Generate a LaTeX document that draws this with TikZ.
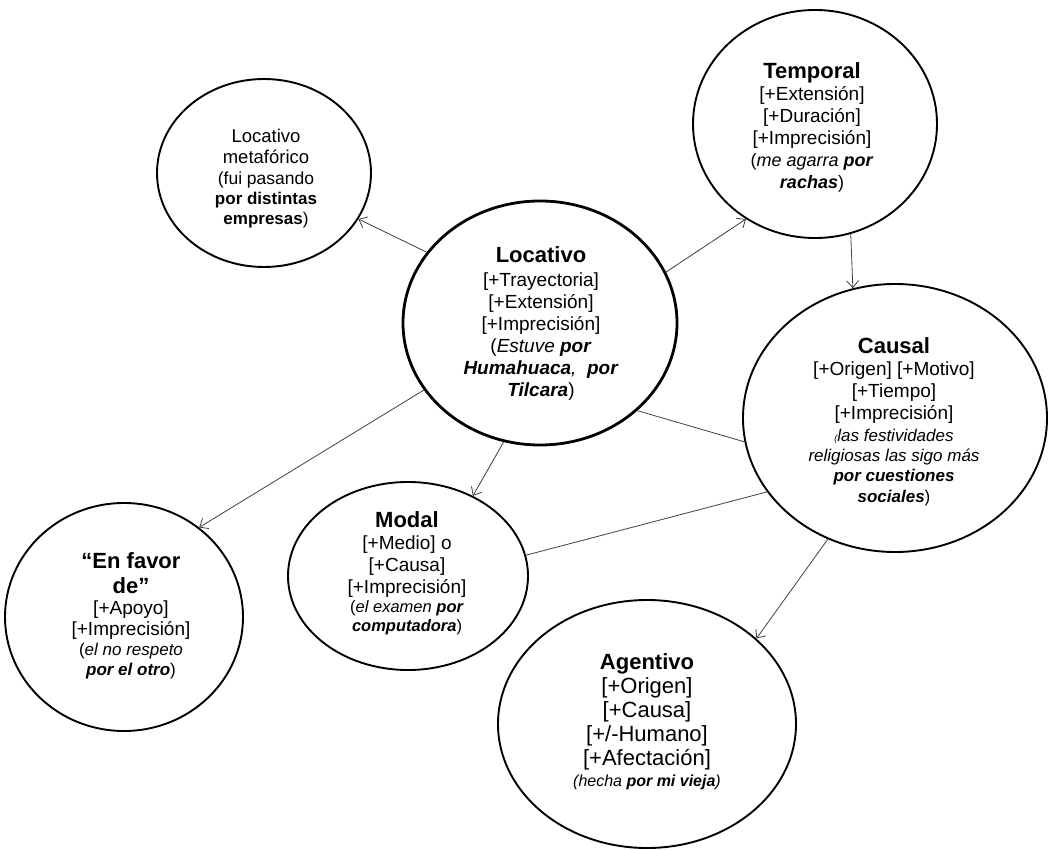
\documentclass[tikz,border=0pt]{standalone}
\usepackage{fontspec}
\setmainfont{Liberation Sans}
\usetikzlibrary{shapes.geometric,arrows.meta}
\newcommand\setfs[2]{\fontsize{#1}{#2}\selectfont}
\tikzset{
  bub/.style={draw=black, line width=1.9pt, ellipse, inner sep=0pt},
  lbl/.style={align=center, inner sep=0pt, text=black},
  con/.style={draw=black!75, line width=0.8pt},
  arr/.style={con, -{Straight Barb[length=7pt,width=12pt]}},
}
\begin{document}
\begin{tikzpicture}[x=1pt,y=-1pt]
\useasboundingbox (0,0) rectangle (1049,850);
% bubbles
\node[bub, minimum width=214pt, minimum height=188pt] (met) at (264,173) {};
\node[bub, minimum width=244pt, minimum height=228pt] (temp) at (815,124) {};
\node[bub, line width=2.8pt, minimum width=274pt, minimum height=244pt] (loc) at (540,323) {};
\node[bub, minimum width=304pt, minimum height=268pt] (cau) at (895,418) {};
\node[bub, minimum width=240pt, minimum height=188pt] (mod) at (408,576) {};
\node[bub, minimum width=238pt, minimum height=228pt] (fav) at (124,617) {};
\node[bub, minimum width=298pt, minimum height=248pt] (age) at (647,724) {};
% texts
\node[lbl, font=\setfs{18.5}{21}] (met-t) at (266,179)
  {Locativo\\ metafórico\\ {\setfs{17.5}{21}(fui pasando}\\[-1pt]
   {\setfs{17}{21}\bfseries por distintas}\\[-1pt]
   {\setfs{17}{21}\textbf{empresas})}};
\node[lbl, font=\setfs{19}{22}] (temp-t) at (812,127)
  {{\setfs{22}{22}\bfseries Temporal}\\ {[}+Extensión]\\ {[}+Duración]\\ {[}+Imprecisión]\\
   {\setfs{18}{22}(\textit{me agarra} \textbf{\textit{por}}}\\
   {\setfs{18}{22}\textbf{\textit{rachas}})}};
\node[lbl, font=\setfs{19}{22}] (loc-t) at (541,323)
  {{\setfs{22}{22}\bfseries Locativo}\\[2pt] {[}+Trayectoria]\\ {[}+Extensión]\\ {[}+Imprecisión]\\
   (\textit{Estuve} \textbf{\textit{por}}\\
   \textbf{\textit{Humahuaca}}\textit{,}~~\textbf{\textit{por}}\\
   \textbf{\textit{Tilcara}})};
\node[lbl, font=\setfs{19}{22}] (cau-t) at (894,422)
  {{\setfs{22}{22}\bfseries Causal}\\ {[}+Origen] [+Motivo]\\ {[}+Tiempo]\\ {[}+Imprecisión]\\
   {\setfs{17}{20}\itshape{\setfs{9}{9}(}las festividades}\\[-2pt]
   {\setfs{17}{20}\itshape religiosas las sigo más}\\[-2pt]
   {\setfs{17}{20}\bfseries\itshape por cuestiones}\\[-1pt]
   {\setfs{17}{20}\textbf{\textit{sociales}})}};
\node[lbl, font=\setfs{19}{22}] (mod-t) at (407,573)
  {{\setfs{22}{22}\bfseries Modal}\\ {[}+Medio] o\\ {[}+Causa]\\ {[}+Imprecisión]\\[-3pt]
   {\setfs{16.5}{18}(\textit{el examen} \textbf{\textit{por}}}\\[-3pt]
   {\setfs{16.5}{18}\textbf{\textit{computadora}})}};
\node[lbl, font=\setfs{19}{21}] (fav-t) at (131,616)
  {{\setfs{22}{22}\bfseries “En favor}\\[4pt] {\setfs{22}{22}\bfseries de”}\\ {[}+Apoyo]\\ {[}+Imprecisión]\\[-1pt]
   {\setfs{17}{20}(\textit{el no respeto}}\\[-1pt]
   {\setfs{17}{20}\textbf{\textit{por el otro}})}};
\node[lbl, font=\setfs{22}{24}] (age-t) at (647,722)
  {{\bfseries Agentivo}\\ {[}+Origen]\\ {[}+Causa]\\ {[}+/-Humano]\\ {[}+Afectación]\\[-3pt]
   {\setfs{16}{18}\itshape (hecha \textbf{por mi vieja})}};
% connectors
\draw[arr] (loc.148.3) -- (met.-26.6);
\draw[arr] (loc.22.2) -- (temp.-126.7);
\draw[arr] (temp.-72.6) -- (cau.108.4);
\draw[arr] (loc.-107.1) -- (mod.51.3);
\draw[arr] (loc.-150.9) -- (fav.50.4);
\draw[con] (loc.-42.9) -- (cau.-171);
\draw[con] (cau.-150.7) -- (mod.10.9);
\draw[arr] (cau.-119.1) -- (age.38.1);
\end{tikzpicture}
\end{document}
